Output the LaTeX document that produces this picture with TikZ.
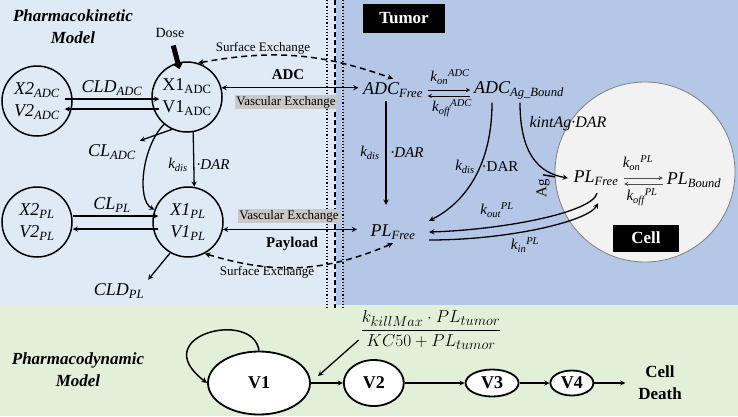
\documentclass[tikz,border=0pt]{standalone}
\usepackage{amsmath}
\usepackage{fontspec}
\setmainfont{Liberation Serif}
\usetikzlibrary{positioning, shapes.geometric, arrows.meta}

\definecolor{pkblue}{RGB}{222,235,247}
\definecolor{tumorblue}{RGB}{180,199,231}
\definecolor{pdgreen}{RGB}{226,240,217}
\definecolor{cellgray}{RGB}{242,242,242}
\definecolor{exgray}{RGB}{200,200,200}

\newcommand{\isub}[2]{\textit{#1\textsubscript{#2}}}
\newcommand{\krate}[2]{\textit{k\textsubscript{#1}\textsuperscript{#2}}}

\begin{document}
\begin{tikzpicture}[>=stealth, x=1pt, y=-1pt, line width=1.3pt,
                comp/.style={circle, draw, minimum size=70pt, inner sep=0pt, align=center, line width=1.5pt, font=\fontsize{18}{22}\selectfont},
                pool/.style={ellipse, draw, fill=white, inner sep=0pt, line width=1.8pt, font=\bfseries\fontsize{18}{20}\selectfont},
                big/.style={font=\fontsize{18}{20}\selectfont},
                ratelbl/.style={font=\fontsize{15}{17}\selectfont},
                small/.style={font=\fontsize{13}{15}\selectfont},
                vex/.style={fill=exgray, inner sep=1.5pt, font=\fontsize{13}{15}\selectfont},
                blackbox/.style={fill=black, text=white, font=\bfseries\fontsize{17}{19}\selectfont},
                title/.style={align=center, font=\bfseries\itshape\fontsize{17}{22}\selectfont},
                surf/.style={<->, dash pattern=on 6pt off 4pt, line width=1.5pt}]
                \useasboundingbox (0,0) rectangle (738,416);
                \fill[pkblue] (0,0) rectangle (336,305);
                \fill[tumorblue] (336,0) rectangle (738,305);
                \fill[pdgreen] (0,305) rectangle (738,416);
                \draw[line width=1.2pt, dash pattern=on 1.2pt off 2pt] (327,0) -- (327,308);
                \draw[line width=1.5pt, dash pattern=on 5pt off 3pt] (335,0) -- (335,308);
                \draw[line width=1.2pt, dash pattern=on 1.2pt off 2pt] (343,0) -- (343,308);
                \node[circle, draw=gray, fill=cellgray, line width=0.8pt, minimum size=180pt] (cell) at (645,172) {};

                \node[title] (pk) at (73,27) {Pharmacokinetic\\Model};
                \node[font=\fontsize{14}{16}\selectfont] (dose) at (170,33) {Dose};
                \node[comp] (X2A) at (37,101) {\isub{X2}{ADC}\\\isub{V2}{ADC}};
                \node[comp] (X1A) at (187,97) {X1\textsubscript{ADC}\\V1\textsubscript{ADC}};
                \node[comp] (X2P) at (37,222) {\isub{X2}{PL}\\\isub{V2}{PL}};
                \node[comp] (X1P) at (188,222) {\isub{X1}{PL}\\\isub{V1}{PL}};
                \node[big] (cldA) at (112,88) {\isub{CLD}{ADC}};
                \node[big] (clA) at (112,152) {\isub{CL}{ADC}};
                \node[big] (clP) at (112,205) {\isub{CL}{PL}};
                \node[big] (cldP) at (119,291) {\isub{CLD}{PL}};
                \node[ratelbl] (kd1) at (178,165) {\isub{k}{dis}};
                \node[ratelbl] (dar1) at (213,165) {\textit{·DAR}};
                \node[small] (se1) at (263,48) {Surface Exchange};
                \node[font=\bfseries\fontsize{15}{17}\selectfont] (adcl) at (288,75) {ADC};
                \node[vex] (ve1) at (286,102) {Vascular Exchange};
                \node[vex] (ve2) at (289,216) {Vascular Exchange};
                \node[font=\bfseries\fontsize{15}{17}\selectfont] (pay) at (292,244) {Payload};
                \node[small] (se2) at (267,272) {Surface Exchange};

                \node[blackbox, minimum width=82pt, minimum height=29pt] (tumor) at (404,18) {Tumor};
                \node[big, inner xsep=4pt] (AF) at (393,90) {\isub{ADC}{Free}};
                \node[big] (AB) at (519,90) {\isub{ADC}{Ag\_Bound}};
                \node[big, inner xsep=13pt] (PF) at (393,232) {\isub{PL}{Free}};
                \node[big, inner xsep=5pt] (CF) at (596,178) {\isub{PL}{Free}};
                \node[big] (CB) at (694,180) {\isub{PL}{Bound}};
                \node[blackbox, minimum width=66pt, minimum height=27pt] (celllbl) at (646,238) {Cell};
                \node[ratelbl] (konA) at (450,77) {\krate{on}{ADC}};
                \node[ratelbl] (koffA) at (452,108) {\krate{off}{ADC}};
                \node[ratelbl] (kd2) at (370,153) {\isub{k}{dis}};
                \node[ratelbl] (dar2) at (407,153) {\textit{·DAR}};
                \node[ratelbl] (kd3) at (465,167) {\isub{k}{dis}};
                \node[ratelbl] (dar3) at (500,167) {·DAR};
                \node[font=\fontsize{16}{18}\selectfont] (kint) at (568,124) {\textit{kintAg·DAR}};
                \node[ratelbl] (kout) at (497,210) {\krate{out}{PL}};
                \node[ratelbl] (kin) at (525,245) {\krate{in}{PL}};
                \node[ratelbl] (konP) at (638,163) {\krate{on}{PL}};
                \node[ratelbl] (koffP) at (642,197) {\krate{off}{PL}};
                \node[ratelbl, rotate=90] (ag) at (543,188) {Ag};

                \node[title] (pd) at (78,370) {Pharmacodynamic\\Model};
                \node[pool, minimum width=102pt, minimum height=63pt] (V1) at (259,383) {V1};
                \node[pool, minimum width=60pt, minimum height=46pt, right=32pt of V1] (V2) {V2};
                \node[pool, minimum width=53pt, minimum height=27pt, right=60pt of V2] (V3) {V3};
                \node[pool, minimum width=43pt, minimum height=25pt, right=30pt of V3] (V4) {V4};
                \node[align=center, font=\bfseries\fontsize{17}{22}\selectfont, right=40pt of V4] (death) {Cell\\Death};
                \node[font=\fontsize{19}{21}\selectfont] (frac) at (431,330) {\(\dfrac{k_{killMax}\cdot PL_{tumor}}{KC50+PL_{tumor}}\)};
                \coordinate (hit) at (318,376);

                \draw[line width=5pt, shorten <=4pt, shorten >=-7pt, -{Triangle[length=6pt, width=10pt]}] (dose) -- (X1A.105);
                \draw[->] ([shift={(-8,-2)}]X2A.east) -- ([shift={(8,2)}]X1A.west);
                \draw[->] ([shift={(8,12)}]X1A.west) -- ([shift={(-8,8)}]X2A.east);
                \draw[->] ([shift={(0,-6)}]X2P.east) -- ([shift={(6,-6)}]X1P.west);
                \draw[->] ([shift={(6,7)}]X1P.west) -- ([shift={(0,7)}]X2P.east);
                \draw[->] (X1A.-115) -- (clA.north east);
                \draw[->] (X1A.-80) -- (X1P.80);
                \draw[->] (X1A.-130) .. controls +(-22,22) and +(-18,-10) .. (X1P.160);
                \draw[->] (X1P.-120) -- (cldP.north east);
                \draw[<->] (X1A.15) -- (X1A.15 -| AF.west);
                \draw[<->] (X1P.-12) -- (X1P.-12 -| PF.west);
                \draw[surf] (X1A.72) to[bend left=15] (AF.north);
                \draw[surf] (X1P.-62) to[bend right=20] (PF.south);

                \draw[->, line width=0.9pt] (AF.east) -- (AB.west);
                \draw[<-, line width=0.9pt] ([yshift=-6pt]AF.east) -- ([yshift=-6pt]AB.west);
                \draw[->, shorten >=16pt] ([xshift=-7pt]AF.south) -- ([xshift=-7pt]PF.north);
                \draw[->] ([xshift=-27pt]AB.south) .. controls +(0,70) and +(30,-15) .. (PF.north east);
                \draw[->] ([xshift=1pt]AB.south) .. controls +(0,50) and +(-30,-5) .. (CF.west);
                \draw[->] ([shift={(1,4)}]CF.south) .. controls +(-5,20) and +(70,-2) .. (PF.east);
                \draw[->] ([yshift=-8pt]PF.east) .. controls +(80,0) and +(-10,18) .. ([shift={(2,14)}]CF.south);
                \draw[->, line width=0.9pt, black!70] (CF.east) -- (CF.east -| CB.west);
                \draw[<-, line width=0.9pt, black!70] ([yshift=-6pt]CF.east) -- ([yshift=-6pt]CF.east -| CB.west);
                \draw[line width=1.5pt] (ag.east) -- ++(12,2);

                \draw[->, line width=1.5pt] (V1.north) .. controls +(-6,-42) and +(-62,-47) .. (V1.west);
                \draw[->] (V1) -- (V2);
                \draw[->] (V2) -- (V3);
                \draw[->] (V3) -- (V4);
                \draw[->, shorten >=9pt] (V4) -- (death);
                \draw[->] ([shift={(2,10)}]frac.west) -- (hit);
\end{tikzpicture}
\end{document}
